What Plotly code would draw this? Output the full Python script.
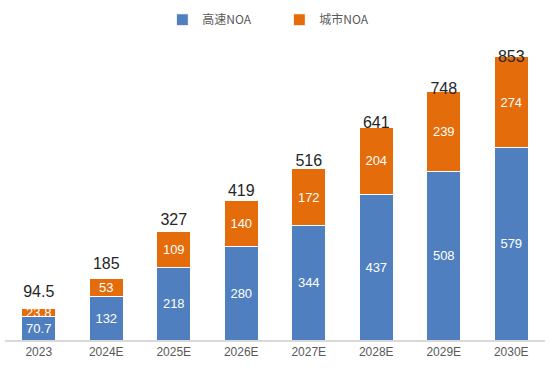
import plotly.graph_objects as go

categories = ["2023", "2024E", "2025E", "2026E", "2027E", "2028E", "2029E", "2030E"]
highway_noa = [70.7, 132, 218, 280, 344, 437, 508, 579]
urban_noa = [23.8, 53, 109, 140, 172, 204, 239, 274]
totals = [94.5, 185, 327, 419, 516, 641, 748, 853]
highway_labels = ["70.7", "132", "218", "280", "344", "437", "508", "579"]
urban_labels = ["23.8", "53", "109", "140", "172", "204", "239", "274"]
total_labels = ["94.5", "185", "327", "419", "516", "641", "748", "853"]

BLUE = "#4F7FBE"
ORANGE = "#E46C0A"
LABEL_FONT = "Liberation Sans Narrow, Arial Narrow, Liberation Sans, Arial"

fig = go.Figure()
fig.add_trace(go.Bar(
    x=categories, y=highway_noa, name="高速NOA",
    marker=dict(color=BLUE, line=dict(color="white", width=1)),
    text=highway_labels, textposition="inside", insidetextanchor="middle",
    constraintext="none", textangle=0,
    textfont=dict(color="white", size=13, family=LABEL_FONT),
))
fig.add_trace(go.Bar(
    x=categories, y=urban_noa, name="城市NOA",
    marker=dict(color=ORANGE, line=dict(color="white", width=1)),
    text=urban_labels, textposition="inside", insidetextanchor="middle",
    constraintext="none", textangle=0,
    textfont=dict(color="white", size=13, family=LABEL_FONT),
))
fig.add_trace(go.Scatter(
    x=categories, y=totals, mode="text", text=total_labels,
    textposition="middle center", yaxis="y2", showlegend=False,
    cliponaxis=False, hoverinfo="skip",
    textfont=dict(color="#262626", size=16, family=LABEL_FONT),
))

fig.update_layout(
    width=550, height=378,
    margin=dict(l=5, r=5, t=30, b=38),
    paper_bgcolor="white", plot_bgcolor="white",
    barmode="stack", bargap=0.5,
    font=dict(family="Liberation Sans, Arial, Noto Sans CJK SC", color="#595959"),
    legend=dict(
        orientation="h", x=0.508, xanchor="center", y=1.05, yanchor="middle",
        font=dict(size=12, color="#595959", family="Noto Sans CJK SC, Liberation Sans"),
        entrywidth=72, itemwidth=30, traceorder="normal",
    ),
    xaxis=dict(
        showline=True, linecolor="#D9D9D9", linewidth=1.5,
        ticks="", tickfont=dict(size=12, color="#595959"),
        showgrid=False,
    ),
    yaxis=dict(range=[0, 918], visible=False, showgrid=False),
    yaxis2=dict(range=[-57.1, 926.9], overlaying="y", visible=False, showgrid=False),
)

fig.write_html("out.html", config={"displayModeBar": False},
               post_script="document.body.style.margin='0';")
